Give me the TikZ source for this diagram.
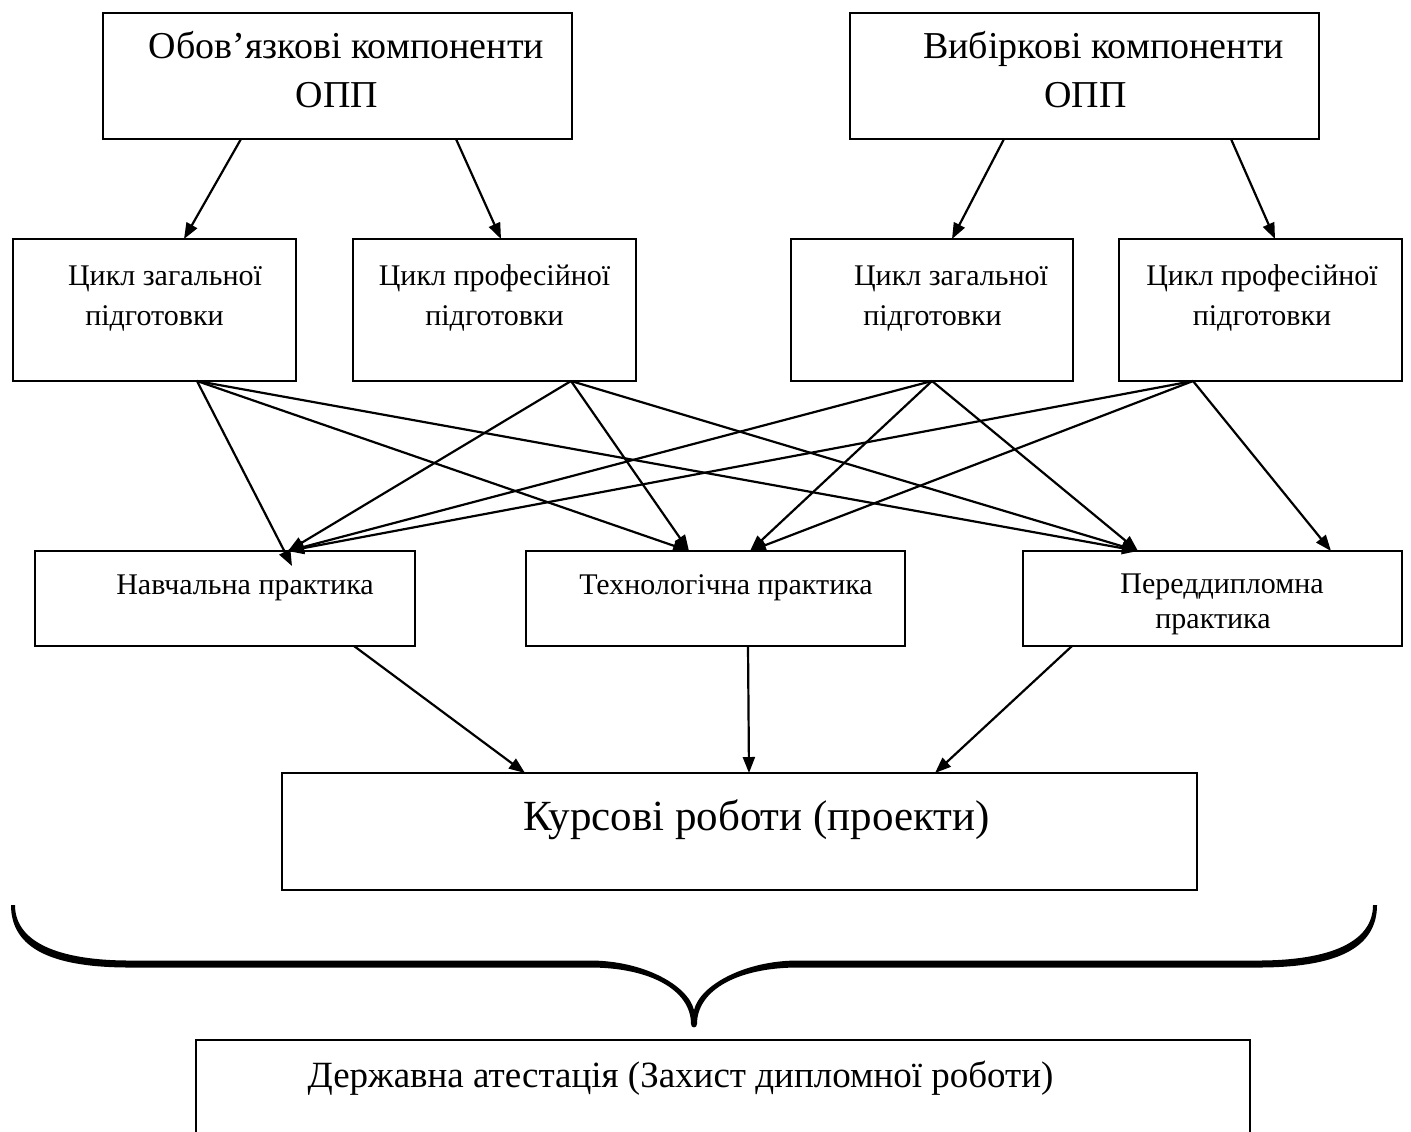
\documentclass[tikz,border=0pt]{standalone}
\usepackage{fontspec}
\setmainfont{Liberation Serif}
\usetikzlibrary{arrows.meta,calc}
\begin{document}
\begin{tikzpicture}[x=0.5pt,y=-0.5pt,
  box/.style={draw,line width=1pt,rectangle,inner sep=0pt,outer sep=0pt},
  conn/.style={line width=1.1pt,-{Triangle[length=8pt,width=6pt]}},
  txt/.style={inner sep=0pt,anchor=base},
  ftop/.style={font=\fontsize{19}{23}\selectfont},
  fmid/.style={font=\fontsize{15}{19}\selectfont},
  fk/.style={font=\fontsize{21.5}{25}\selectfont},
  fd/.style={font=\fontsize{18.5}{22}\selectfont}]
\clip (0,0) rectangle (1411,1131);
\fill[white] (0,0) rectangle (1411,1131);

% boxes
\node[box,minimum width=234.5pt,minimum height=63pt] (A) at (337.5,76) {};
\node[box,minimum width=234.5pt,minimum height=63pt] (B) at (1084.5,76) {};
\node[box,minimum width=141.5pt,minimum height=71pt] (L1) at (154.5,310) {};
\node[box,minimum width=141.5pt,minimum height=71pt] (L2) at (494.5,310) {};
\node[box,minimum width=141pt,minimum height=71pt] (R1) at (932,310) {};
\node[box,minimum width=141.5pt,minimum height=71pt] (R2) at (1260.5,310) {};
\node[box,minimum width=190pt,minimum height=47.5pt] (P1) at (225,598.5) {};
\node[box,minimum width=189.5pt,minimum height=47.5pt] (P2) at (715.5,598.5) {};
\node[box,minimum width=189.5pt,minimum height=47.5pt] (P3) at (1212.5,598.5) {};
\node[box,minimum width=457.5pt,minimum height=58.5pt] (K) at (739.5,831.5) {};
\node[box,minimum width=527pt,minimum height=100pt] (D) at (723,1140) {};

% texts
\node[txt,ftop] (tA1) at (346.5,58) {Обов’язкові компоненти};
\node[txt,ftop] (tA2) at (337,107) {ОПП};
\node[txt,ftop] (tB1) at (1103.5,58) {Вибіркові компоненти};
\node[txt,ftop] (tB2) at (1085.5,107) {ОПП};
\node[txt,fmid] (tL1a) at (165,285) {Цикл загальної};
\node[txt,fmid] (tL1b) at (154.5,325) {підготовки};
\node[txt,fmid] (tL2a) at (494.5,285) {Цикл професійної};
\node[txt,fmid] (tL2b) at (494.5,325) {підготовки};
\node[txt,fmid] (tR1a) at (951,285) {Цикл загальної};
\node[txt,fmid] (tR1b) at (932.5,325) {підготовки};
\node[txt,fmid] (tR2a) at (1262,285) {Цикл професійної};
\node[txt,fmid] (tR2b) at (1262,325) {підготовки};
\node[txt,fmid] (tP1) at (245,594) {Навчальна практика};
\node[txt,fmid] (tP2) at (726,594) {Технологічна практика};
\node[txt,fmid] (tP3a) at (1222,593) {Переддипломна};
\node[txt,fmid] (tP3b) at (1213,628) {практика};
\node[txt,fk] (tK) at (756.5,830) {Курсові роботи (проекти)};
\node[txt,fd] (tD) at (680.5,1087) {Державна атестація (Захист дипломної роботи)};

% top arrows
\draw[conn] ($(A.south west)+(138,0)$) -- ($(L1.north west)+(171,0)$);
\draw[conn] ($(A.south west)+(353,0)$) -- ($(L2.north west)+(148,0)$);
\draw[conn] ($(B.south west)+(154,0)$) -- ($(R1.north west)+(161,0)$);
\draw[conn] ($(B.south west)+(381,0)$) -- ($(R2.north west)+(156,0)$);

% mesh
\draw[conn] ($(L1.south west)+(184,0)$) -- ($(P1.north west)+(257,15)$);
\draw[conn] ($(L1.south west)+(184,0)$) -- ($(P2.north west)+(163,0)$);
\draw[conn] ($(L1.south west)+(184,0)$) -- ($(P3.north west)+(115,0)$);
\draw[conn] ($(L2.south west)+(218,0)$) -- ($(P1.north west)+(253,0)$);
\draw[conn] ($(L2.south west)+(218,0)$) -- ($(P2.north west)+(163,0)$);
\draw[conn] ($(L2.south west)+(218,0)$) -- ($(P3.north west)+(115,0)$);
\draw[conn] ($(R1.south west)+(141,0)$) -- ($(P1.north west)+(253,0)$);
\draw[conn] ($(R1.south west)+(141,0)$) -- ($(P2.north west)+(224,0)$);
\draw[conn] ($(R1.south west)+(141,0)$) -- ($(P3.north west)+(115,0)$);
\draw[conn] ($(R2.south west)+(74,0)$) -- ($(P1.north west)+(253,0)$);
\draw[conn] ($(R2.south west)+(74,0)$) -- ($(P2.north west)+(224,0)$);
\draw[conn] ($(R2.south west)+(74,0)$) -- ($(P3.north west)+(308,0)$);

% to K
\draw[conn] ($(P1.south west)+(319,0)$) -- ($(K.north west)+(243,0)$);
\draw[conn] ($(P2.south west)+(222,0)$) -- ($(K.north west)+(467,0)$);
\draw[conn] ($(P3.south west)+(49,0)$) -- ($(K.north west)+(653,0)$);

% brace
\fill (11,905) .. controls (11,950) and (55,967.5) .. (130,967.5) -- (590,967.5)
  .. controls (650,967.5) and (691,990) .. (691,1024)
  .. controls (691,1028.5) and (697,1028.5) .. (697,1024)
  .. controls (697,990) and (738,967.5) .. (798,967.5) -- (1258,967.5)
  .. controls (1333,967.5) and (1377,950) .. (1377,905) -- (1373,905)
  .. controls (1373,942) and (1330,960.5) .. (1258,960.5) -- (798,960.5)
  .. controls (745,960.5) and (700,985) .. (694,1010)
  .. controls (688,985) and (643,960.5) .. (590,960.5) -- (130,960.5)
  .. controls (58,960.5) and (15,942) .. (15,905) -- cycle;
\end{tikzpicture}
\end{document}
